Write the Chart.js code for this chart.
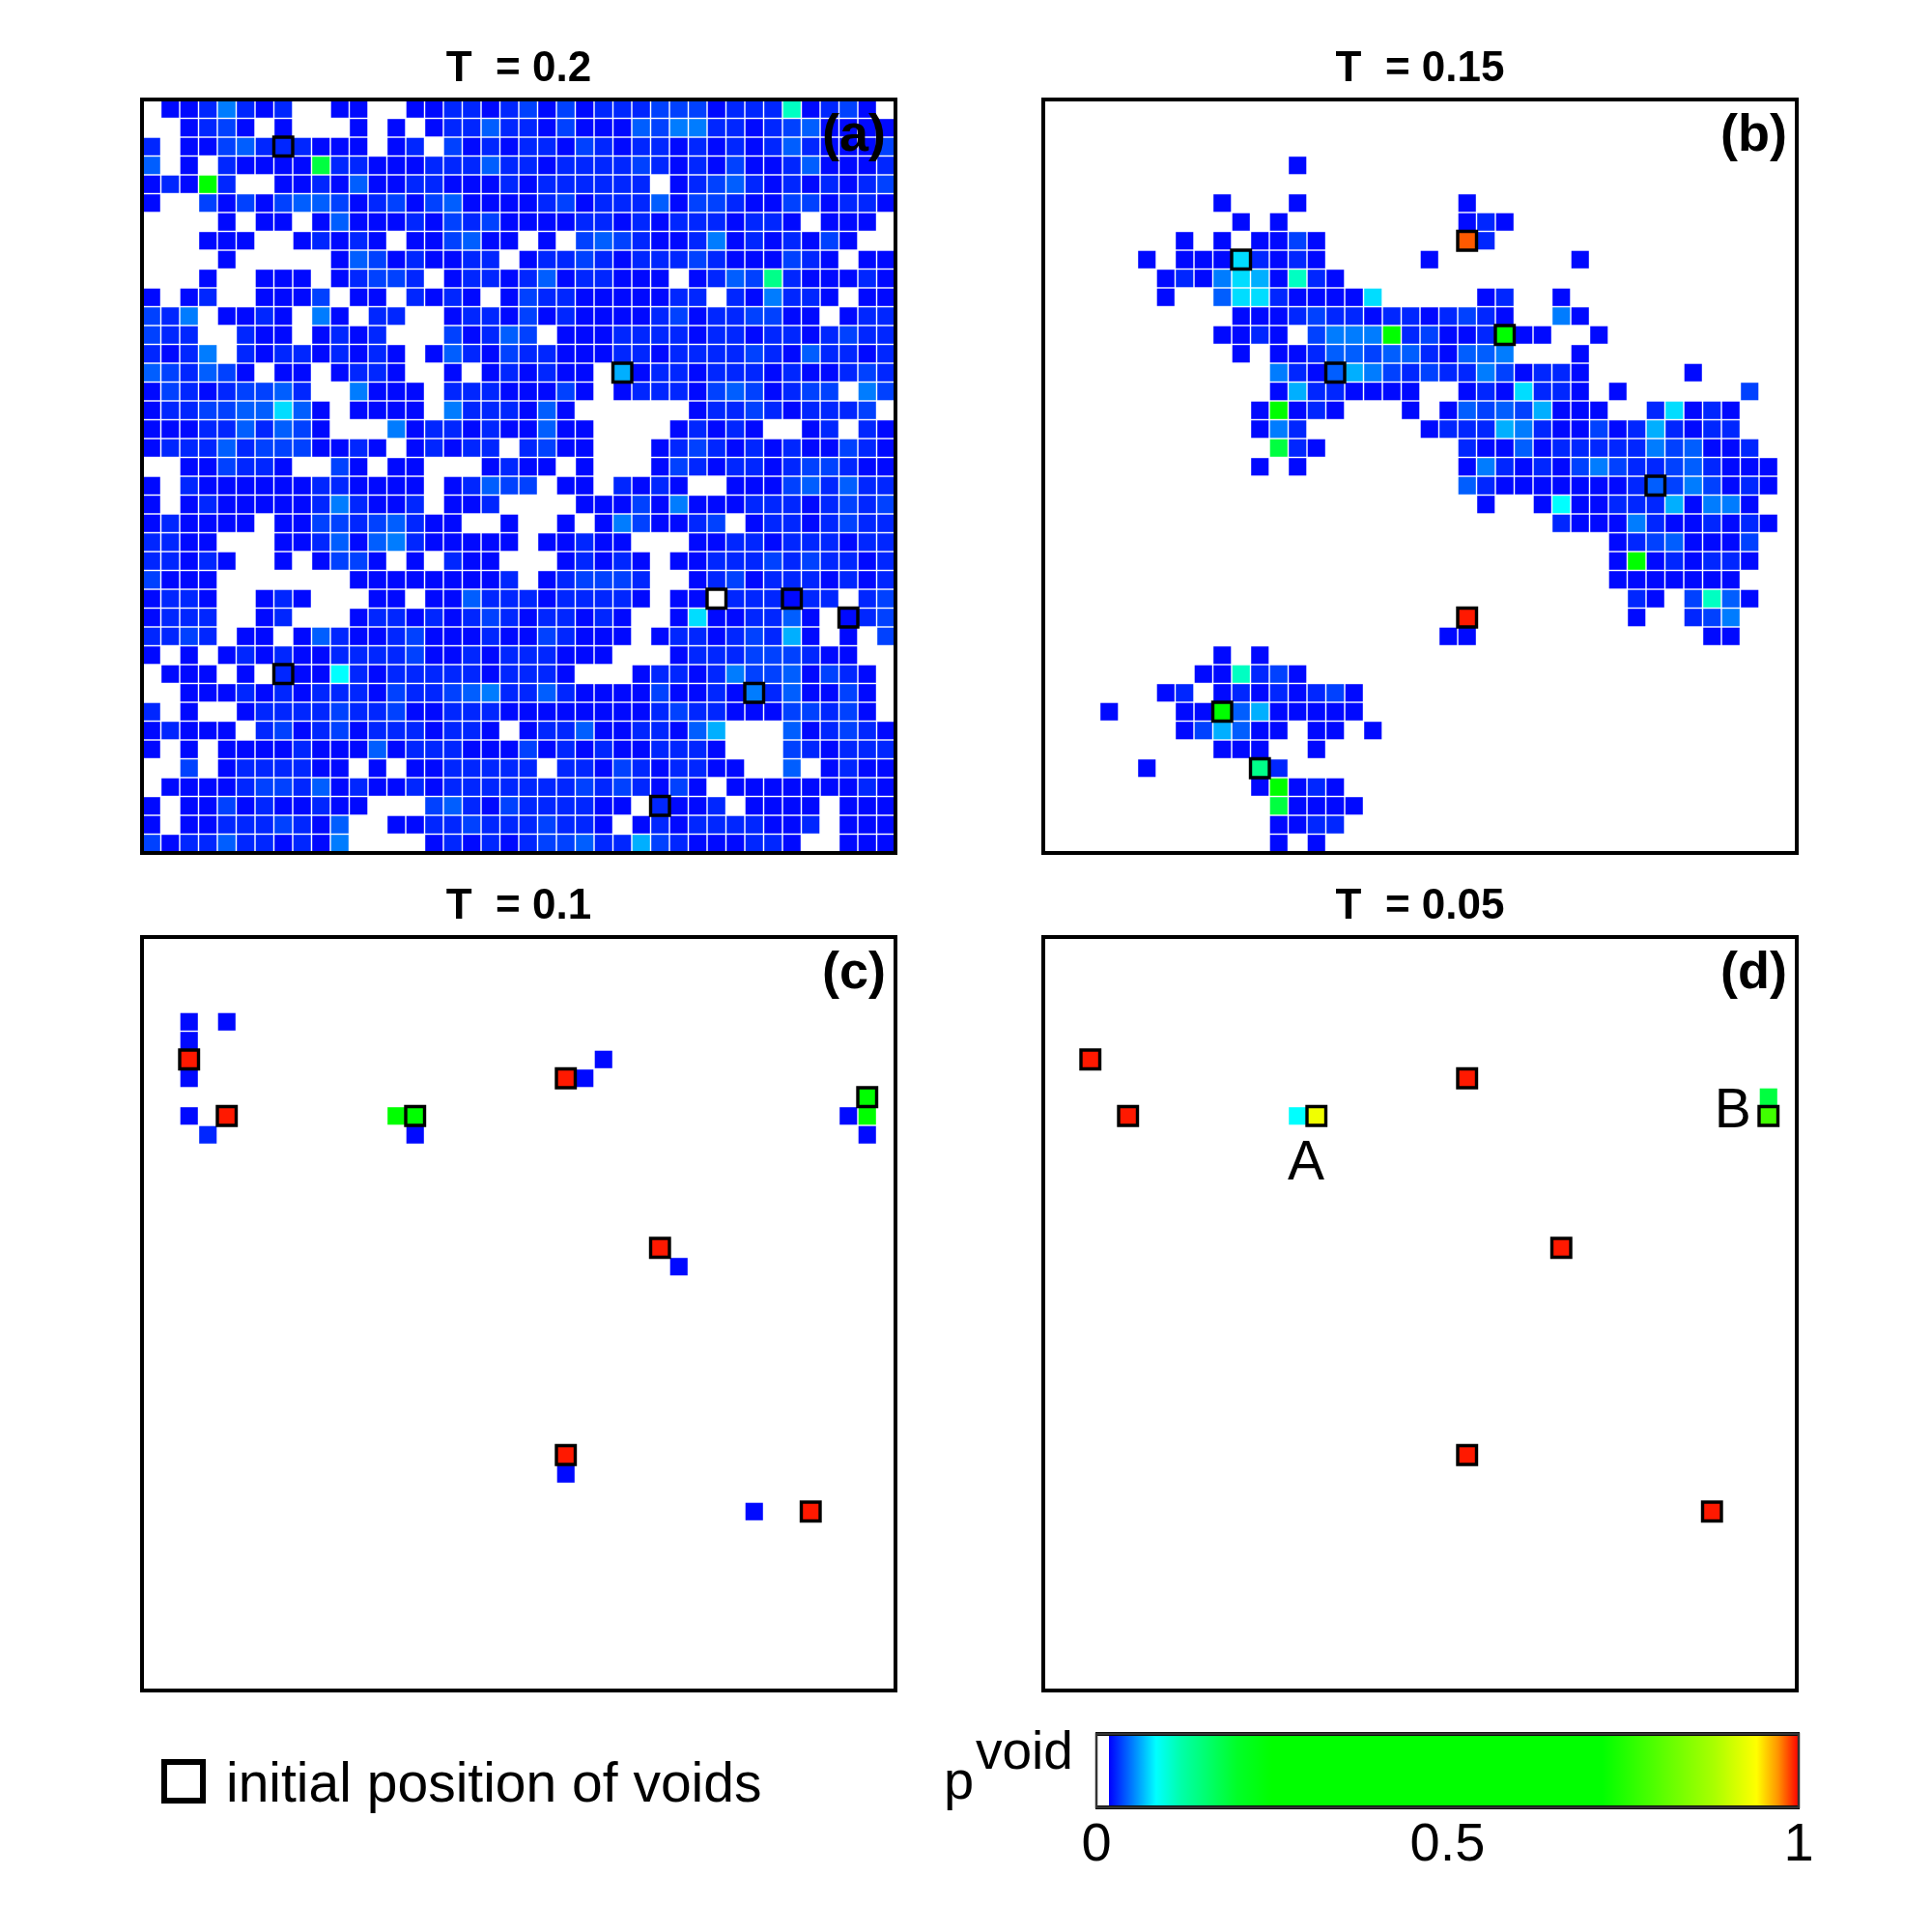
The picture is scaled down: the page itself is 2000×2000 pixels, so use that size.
<!DOCTYPE html>
<html>
<head>
<meta charset="utf-8">
<title>void maps</title>
<script src="https://cdn.jsdelivr.net/npm/chart.js@4.4.1/dist/chart.umd.min.js"></script>
<style>
  html, body { margin: 0; padding: 0; background: #ffffff; }
  body { position: relative; width: 2000px; height: 2000px; overflow: hidden;
         font-family: "Liberation Sans", Arial, Helvetica, sans-serif; color: #000; }
  canvas { position: absolute; }
  .txt { position: absolute; white-space: pre; line-height: 1; }
  #voidKey { position: absolute; left: 167px; top: 1821px; width: 46px; height: 46px;
             box-sizing: border-box; border: 6px solid #000; background: #fff; }
</style>
</head>
<body>
<canvas id="panelA" width="800" height="863" style="left:137px;top:30px"></canvas>
<canvas id="panelB" width="800" height="863" style="left:1070px;top:30px"></canvas>
<canvas id="panelC" width="800" height="863" style="left:137px;top:897px"></canvas>
<canvas id="panelD" width="800" height="863" style="left:1070px;top:897px"></canvas>
<canvas id="colorBar" width="807" height="172" style="left:1095px;top:1785px"></canvas>
<div id="voidKey"></div>
<div class="txt" style="left:234px;top:1817px;font-size:57px">initial position of voids</div>
<div class="txt" style="left:977px;top:1815px;font-size:56px">p</div>
<div class="txt" style="left:1010px;top:1785px;font-size:55px">void</div>
<script>
const FONT = '"Liberation Sans", Arial, Helvetica, sans-serif';

// panel titles and tags
const panelTitles = ['T  = 0.2', 'T  = 0.15', 'T  = 0.1', 'T  = 0.05'];
const panelTags = ['(a)', '(b)', '(c)', '(d)'];

// 40x40 lattice, one string per row (top row first), '.' = no cell
// codes: 0-4 blues, 5-7 light blue to cyan, 8-9 aqua, g/G green, l lime, Y yellow, o orange, r red, w white
const gridA = [
  '.0014101..00..001101|2020111222011180120.',
  '..0120.0...0.0.01131|10200032441101230000',
  '1.0023111000.01.2010|11021011010101310002',
  '3.0.10000g1100011131|10111121010200130001',
  '010G1..0010300110001|0111111.012310101012',
  '0..20202332012023000|01201113022100220110',
  '....0.00.03000102120|000110101110110.000.',
  '...000..01010.002300|.0.232100140101020..',
  '....0.....032010011.|01121011121000210.00',
  '...0..000.01221.0110|13011000.01329100010',
  '0.01..0002.00.1010.0|2110000011.104110.00',
  '214.0010.40.11..0110|2010000120112200.011',
  '211..100.0101...2013|2.000111101101101211',
  '1014.101101010.03102|11000110111121031101',
  '321320.00.0110..0.01|0100.501101110100121',
  '021012231..4000.1110|0020.011102320122.42',
  '0112233630.0000.4111|030......0112101112.',
  '0001131320...4011010|0300....01010..01.10',
  '0111312220010.01011.|1200...0121010100210',
  '..002110..20.00...01|00.0...0210110122100',
  '0.1000000110000.0132|2.00.1010..000231311',
  '0.0100000141001.001.|...00020400011101212',
  '010000.0022123100..0|..0.0420012.01101211',
  '1100...0013034100000|.00100...00110111011',
  '11010..0.0220.0.100.|..01010.001112121101',
  '2000.......000000001|.012221..01201110101',
  '0110..010...00.00311|1011110.00w111011.12',
  '0111..01...011010121|011010..06001130.012',
  '1121.00.031001200010|021000.011012150.0.2',
  '0.0.0101001111200101|11000...0111222100..',
  '.000.0.1007101111101|110...0110142230210.',
  '..000101011102112341|1310000200104130020.',
  '1.0..011112112001110|0000000121100022120.',
  '01000.1201201110110.|01130011035...301210',
  '0.0.0000100030111000|20101001110...210111',
  '..2.0111100.0.001111|1.1102101100..3.0100',
  '.0000122130100101111|1112121020.000000010',
  '0.0020100100...23102|111100.1001.0000.000',
  '0.001112103..0011211|12110.0101111001.000',
  '20113110104....01010|122311521000110..000'
];

const gridB = [
  '..........|..........|..........|..........',
  '..........|..........|..........|..........',
  '..........|..........|..........|..........',
  '..........|...0......|..........|..........',
  '..........|..........|..........|..........',
  '.........0|...0......|..0.......|..........',
  '..........|0.0.......|..010.....|..........',
  '.......0.0|.0020.....|..o1......|..........',
  '.....0.000|61010.....|0.......0.|..........',
  '......0104|650810....|..........|..........',
  '......0..3|66100006..|...01..0..|..........',
  '..........|0001211011|01210..40.|..........',
  '.........0|010.2444G1|2001G00..0|..........',
  '..........|0.00133233|10334...0.|..........',
  '..........|..41035421|211420110.|....0.....',
  '..........|..05110000|..0106110.|0......2..',
  '..........|.0G010...0|.032325000|..16010...',
  '..........|.041......|0111541002|0151011...',
  '..........|..g10.....|..10030111|11423001..',
  '..........|.0.0......|..04101024|211231000.',
  '..........|..........|..31000000|013242010.',
  '..........|..........|...0..0700|11150440..',
  '..........|..........|.......100|041001010.',
  '..........|..........|..........|01230002..',
  '..........|..........|..........|0G010110..',
  '..........|..........|..........|0000000...',
  '..........|..........|..........|.10.2830..',
  '..........|..........|..r.......|.0..124...',
  '..........|..........|.00.......|.....00...',
  '.........0|.0........|..........|..........',
  '........00|8120......|..........|..........',
  '......01.0|1010120...|..........|..........',
  '...0...00G|3500000...|..........|..........',
  '.......025|300.00.0..|..........|..........',
  '.........0|00..0.....|..........|..........',
  '.....0....|.91.......|..........|..........',
  '..........|.0G010....|..........|..........',
  '..........|..g0000...|..........|..........',
  '..........|..0011....|..........|..........',
  '..........|..0.0.....|..........|..........'
];

// sparse panels: [column, row, code]
const cellsC = [
  [2, 4, '0'], [4, 4, '0'], [2, 5, '0'], [2, 6, 'r'], [24, 6, '0'],
  [2, 7, '0'], [22, 7, 'r'], [23, 7, '0'], [38, 8, 'G'],
  [2, 9, '0'], [4, 9, 'r'], [13, 9, 'G'], [14, 9, 'G'], [37, 9, '0'], [38, 9, 'G'],
  [3, 10, '1'], [14, 10, '0'], [38, 10, '0'],
  [27, 16, 'r'], [28, 17, '0'], [22, 27, 'r'], [22, 28, '0'], [32, 30, '0'], [35, 30, 'r']
];
const cellsD = [
  [2, 6, 'r'], [22, 7, 'r'], [38, 8, 'g'], [4, 9, 'r'], [13, 9, '7'], [14, 9, 'Y'],
  [38, 9, 'l'], [27, 16, 'r'], [22, 27, 'r'], [35, 30, 'r']
];

// initial positions of voids [column, row]
const voidsA = [[7, 2], [25, 14], [30, 26], [34, 26], [37, 27], [7, 30], [32, 31], [27, 37]];
const voidsB = [[22, 7], [10, 8], [24, 12], [15, 14], [32, 20], [22, 27], [9, 32], [11, 35]];
const voidsC = [[2, 6], [22, 7], [38, 8], [4, 9], [14, 9], [27, 16], [22, 27], [35, 30]];
const voidsD = [[2, 6], [22, 7], [38, 9], [4, 9], [14, 9], [27, 16], [22, 27], [35, 30]];

// p_void value for each code
const codeValues = {
  '0': 0.0205, '1': 0.028, '2': 0.0352, '3': 0.043, '4': 0.0508, '5': 0.064,
  '6': 0.076, '7': 0.085, '8': 0.11, '9': 0.14, 'g': 0.185, 'G': 0.45,
  'l': 0.78, 'Y': 0.93, 'o': 0.982, 'r': 0.995, 'w': 0
};

// colour map of p_void
const colorStops = [
  [0.000, [255, 255, 255]],
  [0.018, [255, 255, 255]],
  [0.0181, [0, 0, 255]],
  [0.055, [0, 140, 255]],
  [0.085, [0, 255, 255]],
  [0.12, [0, 255, 170]],
  [0.20, [0, 255, 40]],
  [0.25, [0, 255, 0]],
  [0.72, [0, 255, 0]],
  [0.88, [170, 255, 0]],
  [0.94, [255, 255, 0]],
  [0.97, [255, 150, 0]],
  [1.00, [255, 0, 0]]
];
const barTicks = [0, 0.5, 1];

function rgb(c) { return 'rgb(' + c[0] + ',' + c[1] + ',' + c[2] + ')'; }

function pColor(p) {
  for (let i = 1; i < colorStops.length; i++) {
    const [p1, c1] = colorStops[i];
    if (p <= p1) {
      const [p0, c0] = colorStops[i - 1];
      const t = p1 > p0 ? (p - p0) / (p1 - p0) : 0;
      return rgb(c0.map((v, k) => Math.round(v + (c1[k] - v) * t)));
    }
  }
  return rgb(colorStops[colorStops.length - 1][1]);
}

function gridCells(rows) {
  const out = [];
  rows.forEach((line, r) => {
    line.replace(/\|/g, '').split('').forEach((ch, c) => {
      if (ch !== '.') out.push({x: c, y: r, v: codeValues[ch]});
    });
  });
  return out;
}

function listCells(list) {
  return list.map(([c, r, ch]) => ({x: c, y: r, v: codeValues[ch]}));
}

function voidPoints(voids, cells) {
  return voids.map(([c, r]) => {
    const hit = cells.find(p => p.x === c && p.y === r);
    return {x: c, y: r, v: hit ? hit.v : 0};
  });
}

// half-diagonal of a square that is one lattice step minus the inset
function cellRadius(ctx, inset) {
  const xs = ctx.chart.scales.x;
  const pitch = Math.abs(xs.getPixelForValue(1) - xs.getPixelForValue(0));
  return (pitch - inset) / Math.SQRT2;
}

const panelDeco = {
  id: 'panelDeco',
  afterDraw(chart, args, opts) {
    const {ctx, chartArea: a, scales} = chart;
    ctx.save();
    ctx.fillStyle = '#000';
    ctx.textBaseline = 'alphabetic';
    ctx.font = 'bold 54px ' + FONT;
    ctx.textAlign = 'right';
    ctx.fillText(opts.tag, a.right - 10, a.top + 53);
    ctx.font = '57px ' + FONT;
    ctx.textAlign = 'center';
    (opts.marks || []).forEach(m => {
      ctx.fillText(m.text, scales.x.getPixelForValue(m.x), scales.y.getPixelForValue(m.y));
    });
    ctx.strokeStyle = '#000';
    ctx.lineWidth = 4;
    ctx.strokeRect(a.left, a.top, a.width, a.height);
    ctx.restore();
  }
};

function makePanel(id, title, tag, cells, voids, marks) {
  return new Chart(document.getElementById(id), {
    type: 'scatter',
    data: {
      datasets: [
        {
          data: voidPoints(voids, cells),
          pointStyle: 'rect',
          pointRadius: ctx => cellRadius(ctx, 0),
          pointBackgroundColor: ctx => pColor(ctx.raw.v),
          pointBorderColor: '#000',
          pointBorderWidth: 3.4,
          clip: false,
          order: 1
        },
        {
          data: cells,
          pointStyle: 'rect',
          pointRadius: ctx => cellRadius(ctx, 1.4),
          pointBackgroundColor: ctx => pColor(ctx.raw.v),
          pointBorderWidth: 0,
          clip: false,
          order: 2
        }
      ]
    },
    options: {
      responsive: false,
      animation: false,
      devicePixelRatio: 1,
      events: [],
      layout: {padding: {left: 10, right: 10, top: 10, bottom: 10}},
      scales: {
        x: {type: 'linear', min: -0.5, max: 39.5, display: false},
        y: {type: 'linear', min: -0.5, max: 39.5, reverse: true, display: false}
      },
      plugins: {
        legend: {display: false},
        tooltip: {enabled: false},
        title: {
          display: true,
          text: title,
          color: '#000',
          font: {family: FONT, size: 44, weight: 'bold', lineHeight: 1.25},
          padding: {top: 4, bottom: 4}
        },
        panelDeco: {tag: tag, marks: marks}
      }
    },
    plugins: [panelDeco]
  });
}

const cellsA = gridCells(gridA);
const cellsB = gridCells(gridB);
makePanel('panelA', panelTitles[0], panelTags[0], cellsA, voidsA, []);
makePanel('panelB', panelTitles[1], panelTags[1], cellsB, voidsB, []);
makePanel('panelC', panelTitles[2], panelTags[2], listCells(cellsC), voidsC, []);
makePanel('panelD', panelTitles[3], panelTags[3], listCells(cellsD), voidsD,
  [{text: 'A', x: 13.45, y: 12.37}, {text: 'B', x: 36.1, y: 9.6}]);

// colour bar
const barFrame = {
  id: 'barFrame',
  afterDraw(chart) {
    const {ctx, chartArea: a} = chart;
    ctx.save();
    ctx.strokeStyle = '#000';
    ctx.lineWidth = 4;
    ctx.beginPath();
    ctx.moveTo(a.left - 1, a.top); ctx.lineTo(a.right + 1, a.top);
    ctx.moveTo(a.left - 1, a.bottom); ctx.lineTo(a.right + 1, a.bottom);
    ctx.stroke();
    ctx.strokeStyle = '#333';
    ctx.lineWidth = 2.5;
    ctx.strokeRect(a.left, a.top, a.width, a.height);
    ctx.restore();
  }
};

function barGradient(c) {
  const chart = c.chart;
  if (!chart.chartArea) return pColor(0.5);
  const xs = chart.scales.x;
  const g = chart.ctx.createLinearGradient(xs.getPixelForValue(0), 0, xs.getPixelForValue(1), 0);
  colorStops.forEach(([v, col]) => g.addColorStop(v, rgb(col)));
  return g;
}

new Chart(document.getElementById('colorBar'), {
  type: 'bar',
  data: {
    labels: ['p'],
    datasets: [{
      data: [[barTicks[0], barTicks[barTicks.length - 1]]],
      backgroundColor: barGradient,
      borderWidth: 0,
      barPercentage: 1,
      categoryPercentage: 1
    }]
  },
  options: {
    indexAxis: 'y',
    responsive: false,
    animation: false,
    devicePixelRatio: 1,
    events: [],
    layout: {padding: {left: 40, right: 40, top: 10, bottom: 10}},
    scales: {
      x: {
        type: 'linear', min: 0, max: 1,
        afterBuildTicks: s => { s.ticks = barTicks.map(v => ({value: v})); },
        ticks: {color: '#000', font: {family: FONT, size: 56}, padding: 6, maxRotation: 0,
                callback: v => String(v)},
        grid: {display: false, drawTicks: false},
        border: {display: false}
      },
      y: {display: false}
    },
    plugins: {legend: {display: false}, tooltip: {enabled: false}}
  },
  plugins: [barFrame]
});
</script>
</body>
</html>
